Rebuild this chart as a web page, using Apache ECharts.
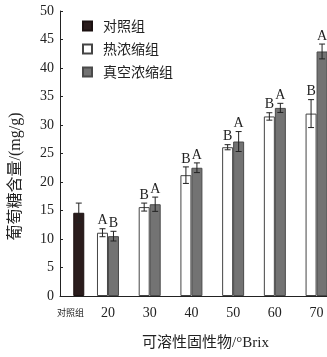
<!DOCTYPE html>
<html><head><meta charset="utf-8">
<script src="https://cdn.jsdelivr.net/npm/echarts@6/dist/echarts.min.js"></script>
<style>html,body{margin:0;padding:0;background:#fff}#c{width:327px;height:357px}</style>
</head><body><div id="c"></div>
<script>
// ---- data ----
const seriesNames = ['对照组', '热浓缩组', '真空浓缩组'];
const controlLabel = '对照组';
const brixLevels = [20, 30, 40, 50, 60, 70];
const controlMean = [14.6];
const controlErr = [1.7];
const hotMean = [11.1, 15.6, 21.2, 26.1, 31.5, 32.0];
const hotErr = [0.7, 0.7, 1.45, 0.45, 0.65, 2.45];
const vacMean = [10.5, 16.1, 22.5, 27.1, 33.0, 42.9];
const vacErr = [0.85, 1.25, 0.85, 1.75, 0.8, 1.3];
const hotLetters = ['A', 'B', 'B', 'B', 'B', 'B'];
const vacLetters = ['B', 'A', 'A', 'A', 'A', 'A'];
const yTicks = [0, 5, 10, 15, 20, 25, 30, 35, 40, 45, 50];
const xTitle = '可溶性固性物/°Brix';
const yTitle = '葡萄糖含量/(mg/g)';

// ---- layout ----
const CONTROL_X = 13;      // where the control bar sits on the Brix scale
const CONTROL_LABEL_X = 11;
const BAR_W = 11;
const SERIF = '"Liberation Serif","Noto Sans CJK SC",serif';
const CJK = '"Noto Sans CJK SC",sans-serif';
const INK = '#222';

function errRender(letters, offset) {
  return function (params, api) {
    const x = api.value(0), v = api.value(1), e = api.value(2);
    const t = api.coord([x, v + e]);
    const b = api.coord([x, v - e]);
    const cx = t[0] + offset;
    const cap = 3;
    const kids = [
      {type: 'line', shape: {x1: cx, y1: t[1], x2: cx, y2: b[1]}, style: {stroke: INK, lineWidth: 1}},
      {type: 'line', shape: {x1: cx - cap, y1: t[1], x2: cx + cap, y2: t[1]}, style: {stroke: INK, lineWidth: 1}},
      {type: 'line', shape: {x1: cx - cap, y1: b[1], x2: cx + cap, y2: b[1]}, style: {stroke: INK, lineWidth: 1}}
    ];
    if (letters) {
      kids.push({type: 'text', style: {text: letters[params.dataIndex], x: cx, y: t[1] - 1,
        align: 'center', verticalAlign: 'bottom', fill: INK, font: '14px ' + SERIF}});
    }
    return {type: 'group', children: kids};
  };
}

const chart = echarts.init(document.getElementById('c'), null, {renderer: 'canvas'});
const xCommon = {
  type: 'value', min: 8.5, max: 72.5, position: 'bottom',
  splitLine: {show: false}, axisTick: {show: false}
};
chart.setOption({
  animation: false,
  backgroundColor: '#fff',
  grid: {left: 56, right: 0, top: 11, bottom: 61},
  legend: {
    orient: 'vertical', left: 77, top: 14, itemWidth: 9, itemHeight: 9, itemGap: 9,
    icon: 'rect',
    data: seriesNames,
    textStyle: {fontSize: 14, fontFamily: CJK, color: INK, padding: [0, 0, 0, 6]}
  },
  xAxis: [
    Object.assign({}, xCommon, {
      axisLine: {show: true, lineStyle: {color: INK, width: 1}},
      axisLabel: {customValues: [CONTROL_LABEL_X], formatter: () => controlLabel,
        fontSize: 9, fontFamily: CJK, color: INK, margin: 12},
      name: xTitle, nameLocation: 'middle', nameGap: 40,
      nameTextStyle: {fontSize: 15, fontFamily: SERIF, color: INK, padding: [0, 0, 0, 24]}
    }),
    Object.assign({}, xCommon, {
      axisLine: {show: false},
      axisLabel: {customValues: brixLevels, formatter: v => String(v),
        fontSize: 14, fontFamily: SERIF, color: INK, margin: 10}
    })
  ],
  yAxis: {
    type: 'value', min: yTicks[0], max: yTicks[yTicks.length - 1], interval: yTicks[1] - yTicks[0],
    splitLine: {show: false},
    axisLine: {show: true, lineStyle: {color: INK, width: 1}},
    axisTick: {show: true, inside: true, length: 3, lineStyle: {color: INK}},
    axisLabel: {fontSize: 14, fontFamily: SERIF, color: INK, margin: 6},
    name: yTitle, nameLocation: 'middle', nameGap: 36,
    nameTextStyle: {fontSize: 16, fontFamily: SERIF, color: INK, padding: [0, 46, 0, 0]}
  },
  series: [
    {name: seriesNames[0], type: 'bar', xAxisIndex: 0, barWidth: BAR_W,
      data: controlMean.map(v => [CONTROL_X, v]),
      itemStyle: {color: '#2a1c1c', borderColor: '#1a1010', borderWidth: 1}},
    {name: seriesNames[1], type: 'bar', xAxisIndex: 1, barWidth: BAR_W, barGap: '0%',
      data: brixLevels.map((b, i) => [b, hotMean[i]]),
      itemStyle: {color: '#ffffff', borderColor: '#444', borderWidth: 1}},
    {name: seriesNames[2], type: 'bar', xAxisIndex: 1, barWidth: BAR_W, barGap: '0%',
      data: brixLevels.map((b, i) => [b, vacMean[i]]),
      itemStyle: {color: '#737373', borderColor: '#4a4a4a', borderWidth: 1}},
    {type: 'custom', xAxisIndex: 0, renderItem: errRender(null, 0), z: 5,
      data: controlMean.map((v, i) => [CONTROL_X, v, controlErr[i]])},
    {type: 'custom', xAxisIndex: 1, renderItem: errRender(hotLetters, -BAR_W / 2), z: 5,
      data: brixLevels.map((b, i) => [b, hotMean[i], hotErr[i]])},
    {type: 'custom', xAxisIndex: 1, renderItem: errRender(vacLetters, BAR_W / 2), z: 5,
      data: brixLevels.map((b, i) => [b, vacMean[i], vacErr[i]])}
  ]
});
</script></body></html>
